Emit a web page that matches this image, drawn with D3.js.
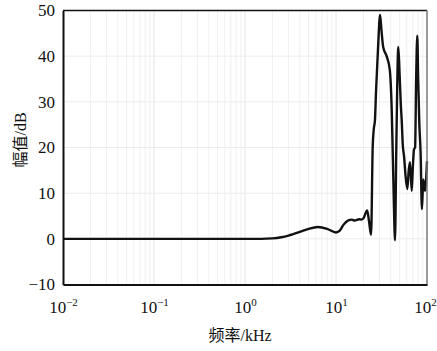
<!DOCTYPE html>
<html><head><meta charset="utf-8">
<script src="https://cdn.jsdelivr.net/npm/d3@7"></script>
<style>
html,body{margin:0;padding:0;background:#fff;}
svg{display:block;}
</style></head>
<body>
<script>
// frequency in kHz
const freq = [0.01, 0.1, 1, 1.5, 2, 2.5, 3, 4, 5, 6.3, 8, 10, 11, 12, 13.5, 15, 16, 18, 19, 20, 22, 23, 24.3,
  25.3, 26, 26.8, 27.5, 29, 30.5, 31.5, 33, 36, 39, 41, 43, 44.5, 46, 48.4, 50, 51.4, 53, 54, 56, 58, 60.8,
  63, 65, 68, 70, 72, 74, 76, 78.2, 80, 82.3, 85, 88, 91, 95, 100];
const amp = [0, 0, 0, 0, 0.1, 0.35, 0.7, 1.5, 2.2, 2.6, 2.2, 1.4, 1.8, 3.0, 4.0, 4.2, 4.0, 4.3, 4.2, 4.5, 6.2, 4.0, 0.9,
  20, 24, 26, 32, 42, 49, 46, 42, 40, 37, 28, 10, -0.3, 20, 42, 36, 30, 25, 21, 18, 14, 10.9,
  15, 16.8, 10.5, 16, 19.6, 20, 35, 44.5, 35, 25.5, 19, 6.5, 13, 10.5, 17];
const yTicks = [-10, 0, 10, 20, 30, 40, 50];
const xTickExps = [-2, -1, 0, 1, 2];
const xLabel = "频率/kHz";
const yLabel = "幅值/dB";

const W = 437, H = 351;
const m = {left: 63, right: 10, top: 10.5, bottom: 66.5};
const svg = d3.select("body").append("svg").attr("width", W).attr("height", H);
const x = d3.scaleLog().domain([0.01, 100]).range([m.left, W - m.right]);
const y = d3.scaleLinear().domain([-10, 50]).range([H - m.bottom, m.top]);
const SERIF = "'Liberation Serif', 'DejaVu Serif', serif";
const CJK = "'Liberation Serif', 'Noto Sans CJK SC', sans-serif";

// grid
const minor = [];
for (let e = -2; e < 2; e++) for (let k = 1; k < 10; k++) minor.push(k * Math.pow(10, e));
svg.append("g").selectAll("line").data(minor.filter(v => v > 0.01)).join("line")
  .attr("x1", d => x(d)).attr("x2", d => x(d)).attr("y1", y(-10)).attr("y2", y(50))
  .attr("stroke", d => Math.abs(Math.log10(d) - Math.round(Math.log10(d))) < 1e-9 ? "#e4e4e4" : "#f0f0f0")
  .attr("stroke-width", 1);
svg.append("g").selectAll("line").data(yTicks.slice(1, -1)).join("line")
  .attr("x1", x(0.01)).attr("x2", x(100)).attr("y1", d => y(d)).attr("y2", d => y(d))
  .attr("stroke", "#ececec").attr("stroke-width", 1);

// curve
const data = freq.map((f, i) => [f, amp[i]]);
svg.append("path").datum(data)
  .attr("fill", "none").attr("stroke", "#111").attr("stroke-width", 2.4).attr("stroke-linejoin", "round")
  .attr("d", d3.line().x(d => x(d[0])).y(d => y(d[1])).curve(d3.curveMonotoneX));

// frame
svg.append("line").attr("x1", x(0.01)).attr("x2", x(100)).attr("y1", y(50)).attr("y2", y(50)).attr("stroke", "#111").attr("stroke-width", 1.5);
svg.append("line").attr("x1", x(100)).attr("x2", x(100)).attr("y1", y(50)).attr("y2", y(-10)).attr("stroke", "#777").attr("stroke-width", 1.5);

const yAxis = svg.append("g").attr("transform", `translate(${m.left},0)`)
  .call(d3.axisLeft(y).tickValues(yTicks).tickSize(0).tickPadding(8).tickFormat(d => d < 0 ? "\u2212" + Math.abs(d) : d));
yAxis.attr("font-family", SERIF).attr("font-size", 17);
yAxis.select(".domain").attr("stroke", "#111").attr("stroke-width", 2);
yAxis.selectAll("text").style("font-family", SERIF).style("font-size", "17px").attr("fill", "#111");

const xAxis = svg.append("g").attr("transform", `translate(0,${H - m.bottom})`)
  .call(d3.axisBottom(x).tickValues(xTickExps.map(e => Math.pow(10, e))).tickSize(0).tickPadding(10).tickFormat(""));
xAxis.attr("font-family", SERIF).attr("font-size", 17);
xAxis.select(".domain").attr("stroke", "#111").attr("stroke-width", 2);
xAxis.selectAll(".tick").each(function(d, i) {
  const t = d3.select(this).append("text").attr("y", 28).attr("text-anchor", "middle")
    .attr("x", i === xTickExps.length - 1 ? -2 : 0)
    .style("font-family", SERIF).style("font-size", "17px").attr("fill", "#111");
  t.append("tspan").text("10");
  t.append("tspan").attr("dy", -7).style("font-size", "11px").text(xTickExps[i] < 0 ? "\u2212" + Math.abs(xTickExps[i]) : xTickExps[i]);
});

svg.append("text").attr("x", 240).attr("y", 341).attr("text-anchor", "middle")
  .style("font-family", CJK).style("font-size", "16px").attr("fill", "#111").text(xLabel);
svg.append("text").attr("transform", "translate(26,140) rotate(-90)").attr("text-anchor", "middle")
  .style("font-family", CJK).style("font-size", "16px").attr("fill", "#111").text(yLabel);
</script>
</body></html>
